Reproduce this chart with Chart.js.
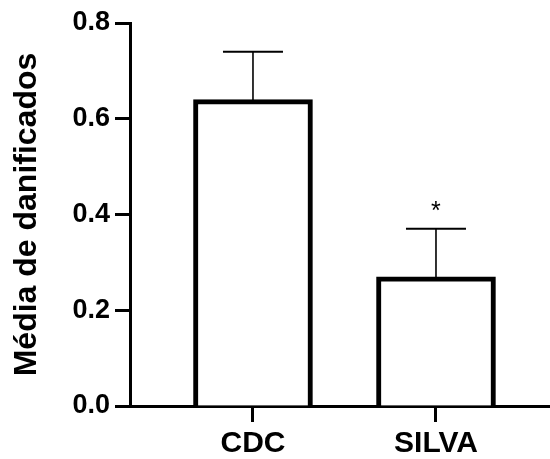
<!DOCTYPE html>
<html>
<head>
<meta charset="utf-8">
<script src="https://cdn.jsdelivr.net/npm/chart.js@4/dist/chart.umd.min.js"></script>
<style>
  html, body { margin: 0; padding: 0; background: #fff; }
  canvas { display: block; }
</style>
</head>
<body>
<canvas id="c" width="550" height="459"></canvas>
<script>
// ---- data ----
const categories = ['CDC', 'SILVA'];
const means = [0.64, 0.27];
const errors = [0.10, 0.10];          // upper error (SEM)
const significance = ['', '*'];
const yTicks = [0.0, 0.2, 0.4, 0.6, 0.8];
const yTitle = 'Média de danificados';

const FONT = '"Liberation Sans", Arial, Helvetica, sans-serif';
const positions = categories.map((c, i) => i + 1);
const points = categories.map((c, i) => ({ x: positions[i], y: means[i] }));

const errorBarPlugin = {
  id: 'errorBars',
  afterDatasetsDraw(chart) {
    const ctx = chart.ctx;
    const xs = chart.scales.x, ys = chart.scales.y;
    ctx.save();
    ctx.strokeStyle = '#000';
    categories.forEach((c, i) => {
      const x = xs.getPixelForValue(positions[i]);
      const yTop = ys.getPixelForValue(means[i] + errors[i]);
      const yBar = ys.getPixelForValue(means[i]);
      ctx.lineWidth = 1.6;
      ctx.beginPath();
      ctx.moveTo(x, yBar + 2);
      ctx.lineTo(x, yTop);
      ctx.stroke();
      ctx.lineWidth = 2;
      ctx.beginPath();
      ctx.moveTo(x - 30, yTop);
      ctx.lineTo(x + 30, yTop);
      ctx.stroke();
      if (significance[i]) {
        ctx.fillStyle = '#000';
        ctx.font = '25px ' + FONT;
        ctx.textAlign = 'center';
        ctx.textBaseline = 'middle';
        ctx.fillText(significance[i], x, yTop - 17);
      }
    });
    ctx.restore();
  }
};

new Chart(document.getElementById('c'), {
  type: 'bar',
  data: {
    datasets: [{
      data: points,
      backgroundColor: '#fff',
      borderColor: '#000',
      borderWidth: 5,
      barThickness: 119
    }]
  },
  options: {
    responsive: false,
    devicePixelRatio: 1,
    animation: false,
    layout: { padding: { top: 23, right: 0, left: 0, bottom: 0 } },
    plugins: { legend: { display: false }, tooltip: { enabled: false } },
    scales: {
      x: {
        type: 'linear',
        offset: false,
        min: 0.328,
        max: 2.623,
        afterBuildTicks(scale) { scale.ticks = positions.map(v => ({ value: v })); },
        afterFit(scale) { scale.height = 53; },
        ticks: {
          color: '#000',
          font: { family: FONT, size: 30, weight: 'bold' },
          padding: 4,
          callback: (v) => categories[positions.indexOf(v)] ?? ''
        },
        grid: { display: true, offset: false, drawOnChartArea: false, drawTicks: true, tickLength: 16, tickWidth: 3, tickColor: '#000' },
        border: { display: true, width: 3, color: '#000' }
      },
      y: {
        min: 0,
        max: 0.8,
        afterBuildTicks(scale) { scale.ticks = yTicks.map(v => ({ value: v })); },
        afterFit(scale) { scale.width = 130; },
        ticks: {
          color: '#000',
          font: { family: FONT, size: 27, weight: 'bold' },
          padding: 5,
          callback: (v) => Number(v).toFixed(1)
        },
        grid: { display: true, drawOnChartArea: false, drawTicks: true, tickLength: 15, tickWidth: 3, tickColor: '#000' },
        border: { display: true, width: 3, color: '#000' },
        title: {
          display: true,
          text: yTitle,
          color: '#000',
          font: { family: FONT, size: 32, weight: 'bold' },
          padding: { top: 8, bottom: 0 }
        }
      }
    }
  },
  plugins: [errorBarPlugin]
});
</script>
</body>
</html>
